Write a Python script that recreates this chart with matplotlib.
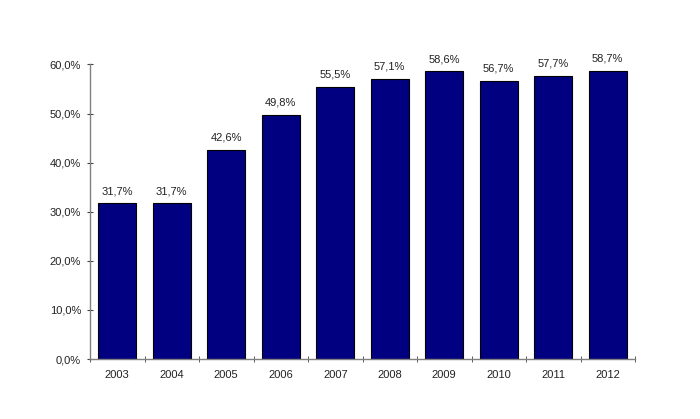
import matplotlib
matplotlib.use("Agg")
import matplotlib.pyplot as plt
import numpy as np

plt.rcParams['font.family'] = ['Liberation Sans', 'DejaVu Sans']

years = ['2003', '2004', '2005', '2006', '2007', '2008', '2009', '2010', '2011', '2012']
shares = [31.7, 31.7, 42.6, 49.8, 55.5, 57.1, 58.6, 56.7, 57.7, 58.7]
y_ticks = [0, 10, 20, 30, 40, 50, 60]

fig = plt.figure(figsize=(7, 4.19), dpi=100)
ax = fig.add_axes([90 / 700, 1 - 359 / 419, 545 / 700, (359 - 64.5) / 419])

x = np.arange(len(years))
bars = ax.bar(x, shares, width=0.7, color='#000080', edgecolor='#000000', linewidth=0.8, zorder=2)

for xi, v in zip(x, shares):
    ax.text(xi, v + 1.5, f"{v:.1f}%".replace('.', ','), ha='center', va='bottom',
            fontsize=8, color='#222222')

ax.set_xlim(-0.5, len(years) - 0.5)
ax.set_ylim(0, 60)
ax.set_yticks(y_ticks)
ax.set_yticklabels([f"{t:.1f}%".replace('.', ',') for t in y_ticks], fontsize=8, color='#222222')

ax.set_xticks(x)
ax.set_xticklabels(years, fontsize=8, color='#222222')
ax.tick_params(axis='x', which='major', length=0, pad=8)
ax.set_xticks(np.arange(len(years) + 1) - 0.5, minor=True)
ax.tick_params(axis='x', which='minor', length=5, direction='inout', color='#404040')
ax.tick_params(axis='y', length=5, direction='inout', color='#404040', pad=4)

for s in ['top', 'right']:
    ax.spines[s].set_visible(False)
for s in ['left', 'bottom']:
    ax.spines[s].set_color('#808080')
    ax.spines[s].set_linewidth(1.0)

fig.savefig('out.png', dpi=100)
